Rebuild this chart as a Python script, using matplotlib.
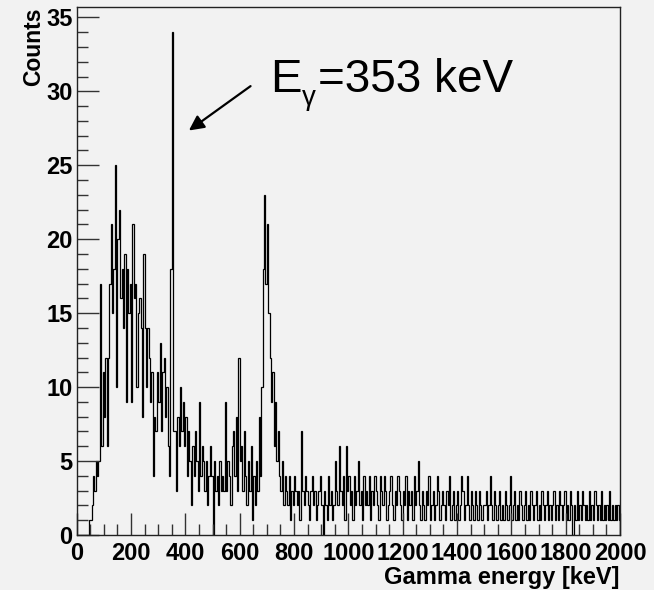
import matplotlib
matplotlib.use("Agg")
import matplotlib.pyplot as plt
import numpy as np
from matplotlib.ticker import MultipleLocator

# ---- data: counts per 5 keV bin, 0..2000 keV ----
bin_width_kev = 5
counts_0_250 = [0, 0, 0, 0, 0, 0, 0, 0, 0, 1, 1, 2, 4, 3, 5, 4, 5, 17, 6, 11,
                8, 12, 6, 12, 17, 21, 15, 18, 25, 10, 20, 22, 16, 18, 14, 19, 9, 18, 15, 17,
                9, 21, 16, 17, 10, 15, 16, 14, 8, 19]
counts_250_500 = [14, 10, 14, 12, 9, 11, 4, 8, 7, 11, 9, 13, 7, 11, 12, 8, 10, 6, 4, 18,
                  34, 7, 7, 3, 8, 6, 10, 7, 9, 6, 8, 4, 7, 5, 2, 6, 4, 7, 5, 3,
                  9, 4, 6, 5, 3, 5, 2, 4, 6, 4]
counts_500_750 = [0, 5, 3, 4, 2, 5, 3, 4, 3, 9, 3, 5, 4, 2, 6, 7, 4, 8, 3, 12,
                  5, 6, 3, 7, 4, 2, 5, 3, 6, 1, 4, 2, 5, 3, 8, 4, 10, 18, 23, 17,
                  21, 15, 12, 9, 11, 6, 9, 5, 7, 4]
counts_750_1000 = [3, 5, 2, 4, 3, 2, 4, 1, 3, 2, 4, 3, 2, 3, 1, 7, 3, 2, 4, 3,
                   2, 1, 3, 4, 2, 3, 1, 2, 3, 4, 2, 0, 3, 2, 1, 4, 2, 3, 1, 2,
                   5, 3, 2, 6, 3, 2, 4, 1, 6, 3]
counts_1000_1250 = [4, 2, 3, 1, 4, 2, 3, 5, 2, 3, 1, 4, 2, 3, 2, 4, 1, 3, 2, 4,
                    3, 2, 1, 4, 3, 2, 4, 3, 1, 2, 3, 4, 2, 1, 3, 2, 4, 3, 2, 1,
                    3, 2, 4, 1, 3, 2, 3, 1, 4, 2]
counts_1250_1500 = [3, 5, 2, 1, 3, 2, 1, 3, 2, 4, 1, 2, 3, 1, 2, 4, 3, 1, 2, 3,
                    2, 1, 3, 2, 4, 1, 2, 3, 1, 2, 3, 1, 2, 4, 3, 1, 2, 4, 2, 1,
                    3, 2, 1, 3, 2, 1, 3, 2, 1, 2]
counts_1500_1750 = [2, 3, 1, 2, 4, 2, 1, 3, 2, 1, 2, 3, 1, 2, 1, 3, 2, 1, 2, 4,
                    1, 2, 3, 1, 2, 1, 3, 2, 1, 2, 3, 1, 2, 1, 3, 2, 1, 2, 3, 1,
                    2, 1, 3, 2, 1, 2, 3, 1, 2, 1]
counts_1750_2000 = [2, 3, 1, 2, 1, 3, 2, 1, 2, 3, 1, 2, 1, 3, 2, 0, 2, 1, 3, 1,
                    2, 1, 3, 2, 1, 2, 1, 3, 1, 2, 1, 3, 2, 1, 2, 1, 3, 1, 2, 1,
                    2, 1, 3, 1, 2, 1, 2, 1, 2, 1]

x_ticks = [0, 200, 400, 600, 800, 1000, 1200, 1400, 1600, 1800, 2000]
y_ticks = [0, 5, 10, 15, 20, 25, 30, 35]
x_label = "Gamma energy [keV]"
y_label = "Counts"
annot_main = "E"
annot_sub = "\u03b3"
annot_rest = "=353 keV"

counts = np.array(counts_0_250 + counts_250_500 + counts_500_750 + counts_750_1000
                  + counts_1000_1250 + counts_1250_1500 + counts_1500_1750 + counts_1750_2000)
edges = np.arange(len(counts) + 1) * bin_width_kev

plt.rcParams["font.family"] = ["Liberation Sans", "DejaVu Sans"]

W, H = 654, 590
bg = "#f2f2f2"
fig = plt.figure(figsize=(W / 100, H / 100), dpi=100, facecolor=bg)
ax = fig.add_axes([76.7 / W, 55 / H, (620 - 76.7) / W, (535 - 7) / H])
ax.set_facecolor(bg)

ax.stairs(counts, edges, baseline=0, color="black", linewidth=0.9)

ax.set_xlim(0, 2000)
ax.set_ylim(0, counts.max() * 1.05)

ax.set_xticks(x_ticks)
ax.set_yticks(y_ticks)
ax.xaxis.set_minor_locator(MultipleLocator(50))
ax.yaxis.set_minor_locator(MultipleLocator(1))
ax.set_xticklabels([str(v) for v in x_ticks])
ax.set_yticklabels([str(v) for v in y_ticks])

ax.tick_params(axis="both", which="major", direction="in", length=16, width=1,
               color="#333333", labelsize=17)
ax.tick_params(axis="y", which="major", pad=3)
ax.tick_params(axis="x", which="major", pad=5)
ax.tick_params(axis="both", which="minor", direction="in", length=8, width=1,
               color="#333333")
for lab in ax.get_xticklabels() + ax.get_yticklabels():
    lab.set_fontweight("bold")

for s in ax.spines.values():
    s.set_color("#222222")
    s.set_linewidth(1.0)

ax.set_xlabel(x_label, fontsize=17, fontweight="bold", loc="right", labelpad=1)
ax.set_ylabel(y_label, fontsize=16.5, fontweight="bold", loc="top", labelpad=1)

# annotation text: E, subscript gamma, rest
fig.text(270 / W, 1 - 92 / H, annot_main, fontsize=34, ha="left", va="baseline")
fig.text(302 / W, 1 - 105 / H, annot_sub, fontsize=20, ha="left", va="baseline")
fig.text(318 / W, 1 - 92 / H, annot_rest, fontsize=33, ha="left", va="baseline")

ax.annotate("", xy=(413, 27.35), xytext=(640, 30.35),
            arrowprops=dict(arrowstyle="-|>,head_length=0.9,head_width=0.45",
                            color="black", lw=1.6, shrinkA=0, shrinkB=0))

fig.savefig("out.png", dpi=100, facecolor=bg)
